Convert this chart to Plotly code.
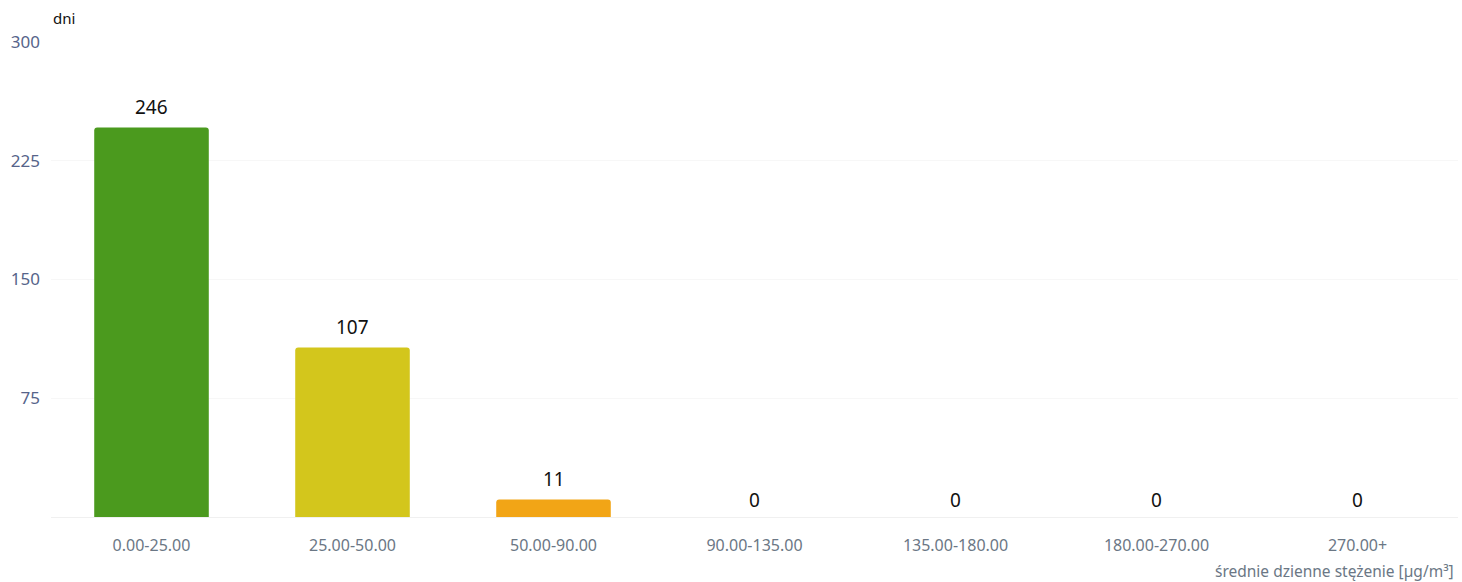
import plotly.graph_objects as go

categories = ["0.00-25.00", "25.00-50.00", "50.00-90.00", "90.00-135.00",
              "135.00-180.00", "180.00-270.00", "270.00+"]
days = [246, 107, 11, 0, 0, 0, 0]
colors = ["#4b9a1e", "#d3c61c", "#f2a516", "#e07b12", "#d9322a", "#a1182a", "#6d1a3a"]
y_ticks = [75, 150, 225, 300]

fig = go.Figure(go.Bar(
    x=categories, y=days,
    marker=dict(color=colors, line=dict(width=0), cornerradius=3),
    hoverinfo="skip",
))

annotations = [
    dict(x=c, y=v, xref="x", yref="y", text=str(v), showarrow=False,
         yanchor="bottom", yshift=6 if v > 0 else 2, font=dict(size=19, color="#111111"))
    for c, v in zip(categories, days)
]
annotations += [
    dict(text="dni", xref="paper", yref="paper", x=0.0, y=1.0, xanchor="left",
         yanchor="bottom", yshift=12, xshift=0, showarrow=False,
         font=dict(size=15, color="#111111")),
    dict(text="średnie dzienne stężenie [µg/m³]", xref="paper", yref="paper",
         x=1.0, y=0, xanchor="right", yanchor="top", yshift=-41, xshift=-2,
         showarrow=False, font=dict(size=15.5, color="#6b7785")),
]

fig.update_layout(
    width=1462, height=582,
    margin=dict(l=51, r=4, t=42, b=65),
    paper_bgcolor="white", plot_bgcolor="white",
    bargap=0.43,
    showlegend=False,
    font=dict(family="Noto Sans"),
    annotations=annotations,
)
fig.update_xaxes(
    automargin=False,
    showgrid=False, showline=True, linecolor="#f0f0f0", linewidth=1,
    tickfont=dict(size=16, color="#6b7785"), ticks="", ticklabelstandoff=14,
)
fig.update_yaxes(
    automargin=False,
    range=[0, 300], tickvals=y_ticks, showgrid=True, gridcolor="#f7f7f7",
    zeroline=False, tickfont=dict(size=17, color="#56648a"), ticks="",
    ticklabelstandoff=10,
)

fig.write_html("out.html", config={"displayModeBar": False},
               post_script="document.body.style.margin='0';")
